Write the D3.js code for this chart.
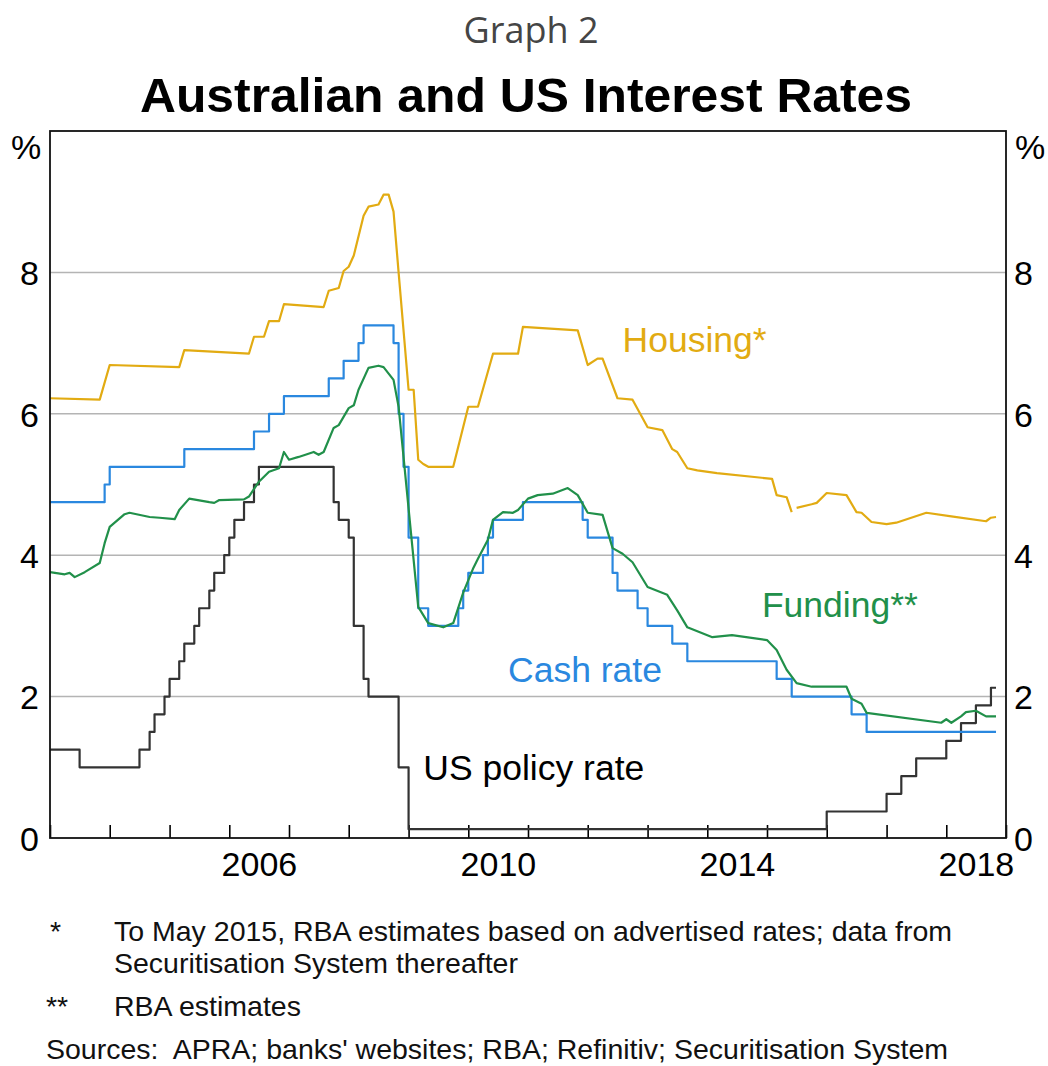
<!DOCTYPE html>
<html>
<head>
<meta charset="utf-8">
<script src="https://cdn.jsdelivr.net/npm/d3@7"></script>
<style>
  body { margin: 0; background: #fff; }
  svg text { font-family: "Liberation Sans", Arial, sans-serif; }
</style>
</head>
<body>
<div id="chart"></div>
<script>
const cashRate = [
  ["2003-01", 4.75], ["2003-12", 5.00], ["2004-01", 5.25], ["2005-04", 5.50], ["2006-06", 5.75],
  ["2006-09", 6.00], ["2006-12", 6.25], ["2007-09", 6.50], ["2007-12", 6.75], ["2008-03", 7.00],
  ["2008-04", 7.25], ["2008-10", 7.00], ["2008-11", 6.00], ["2008-12", 5.25], ["2009-01", 4.25],
  ["2009-03", 3.25], ["2009-05", 3.00], ["2009-11", 3.25], ["2009-12", 3.50], ["2010-01", 3.75],
  ["2010-04", 4.00], ["2010-05", 4.25], ["2010-06", 4.50], ["2010-12", 4.75], ["2011-12", 4.50],
  ["2012-01", 4.25], ["2012-06", 3.75], ["2012-07", 3.50], ["2012-11", 3.25], ["2013-01", 3.00],
  ["2013-06", 2.75], ["2013-09", 2.50], ["2015-03", 2.25], ["2015-06", 2.00], ["2016-06", 1.75],
  ["2016-09", 1.50], ["2018-11", 1.50]
]

const usPolicyRate = [
  ["2003-01", 1.25], ["2003-07", 1.00], ["2004-07", 1.25], ["2004-09", 1.50], ["2004-10", 1.75],
  ["2004-12", 2.00], ["2005-01", 2.25], ["2005-03", 2.50], ["2005-04", 2.75], ["2005-06", 3.00],
  ["2005-07", 3.25], ["2005-09", 3.50], ["2005-10", 3.75], ["2005-12", 4.00], ["2006-01", 4.25],
  ["2006-02", 4.50], ["2006-04", 4.75], ["2006-06", 5.00], ["2006-07", 5.25], ["2007-10", 4.75],
  ["2007-11", 4.50], ["2008-01", 4.25], ["2008-02", 3.00], ["2008-04", 2.25], ["2008-05", 2.00],
  ["2008-11", 1.00], ["2009-01", 0.125], ["2016-01", 0.375], ["2017-01", 0.625], ["2017-04", 0.875],
  ["2017-07", 1.125], ["2018-01", 1.375], ["2018-04", 1.625], ["2018-07", 1.875], ["2018-10", 2.125],
  ["2018-11", 2.125]
]

// housing: advertised-rate estimates to May 2015, Securitisation System after
const housingAdvertised = [
  ["2003-01", 6.22], ["2003-11", 6.20], ["2004-01", 6.69], ["2005-03", 6.66], ["2005-04", 6.90],
  ["2006-05", 6.85], ["2006-06", 7.09], ["2006-08", 7.09], ["2006-09", 7.31], ["2006-11", 7.31],
  ["2006-12", 7.55], ["2007-08", 7.51], ["2007-09", 7.74], ["2007-11", 7.78], ["2007-12", 8.02],
  ["2008-01", 8.08], ["2008-02", 8.24], ["2008-04", 8.80], ["2008-05", 8.93], ["2008-07", 8.96],
  ["2008-08", 9.10], ["2008-09", 9.10], ["2008-10", 8.86], ["2008-11", 8.00], ["2009-01", 6.34],
  ["2009-02", 6.34], ["2009-03", 5.35], ["2009-04", 5.29], ["2009-05", 5.25], ["2009-10", 5.25],
  ["2010-01", 6.10], ["2010-03", 6.10], ["2010-06", 6.85], ["2010-11", 6.85], ["2010-12", 7.23],
  ["2011-11", 7.18], ["2012-01", 6.69], ["2012-03", 6.78], ["2012-04", 6.78], ["2012-07", 6.22],
  ["2012-10", 6.20], ["2013-01", 5.81], ["2013-04", 5.77], ["2013-06", 5.50], ["2013-07", 5.46],
  ["2013-09", 5.23], ["2013-11", 5.20], ["2014-03", 5.16], ["2015-02", 5.08], ["2015-03", 4.85],
  ["2015-05", 4.82], ["2015-06", 4.61]
]
const housingSecuritisation = [
  ["2015-07", 4.67], ["2015-10", 4.72], ["2015-11", 4.74], ["2016-01", 4.88], ["2016-05", 4.85],
  ["2016-07", 4.61], ["2016-08", 4.60], ["2016-10", 4.47], ["2017-01", 4.44], ["2017-03", 4.46],
  ["2017-09", 4.60], ["2018-02", 4.55], ["2018-09", 4.48], ["2018-10", 4.53], ["2018-11", 4.54]
]

const funding = [
  ["2003-01", 3.76], ["2003-04", 3.73], ["2003-05", 3.75], ["2003-06", 3.69], ["2003-08", 3.76],
  ["2003-11", 3.89], ["2003-12", 4.17], ["2004-01", 4.40], ["2004-04", 4.58], ["2004-05", 4.60],
  ["2004-09", 4.54], ["2004-11", 4.53], ["2005-02", 4.51], ["2005-03", 4.64], ["2005-05", 4.80],
  ["2005-09", 4.75], ["2005-10", 4.74], ["2005-11", 4.78], ["2006-04", 4.79], ["2006-05", 4.83],
  ["2006-07", 5.04], ["2006-09", 5.18], ["2006-11", 5.23], ["2006-12", 5.46], ["2007-01", 5.35],
  ["2007-03", 5.39], ["2007-06", 5.46], ["2007-07", 5.42], ["2007-08", 5.46], ["2007-10", 5.80],
  ["2007-11", 5.84], ["2008-01", 6.08], ["2008-02", 6.12], ["2008-03", 6.34], ["2008-05", 6.65],
  ["2008-07", 6.68], ["2008-08", 6.66], ["2008-10", 6.48], ["2008-11", 6.10], ["2009-03", 3.27],
  ["2009-05", 3.04], ["2009-08", 2.98], ["2009-10", 3.04], ["2009-12", 3.47], ["2010-02", 3.82],
  ["2010-03", 3.95], ["2010-05", 4.22], ["2010-06", 4.50], ["2010-08", 4.61], ["2010-10", 4.60],
  ["2010-11", 4.64], ["2011-01", 4.80], ["2011-03", 4.85], ["2011-06", 4.87], ["2011-09", 4.95],
  ["2011-11", 4.85], ["2012-01", 4.60], ["2012-04", 4.57], ["2012-06", 4.10], ["2012-08", 4.02],
  ["2012-10", 3.90], ["2013-01", 3.55], ["2013-05", 3.44], ["2013-07", 3.22], ["2013-09", 2.98],
  ["2014-02", 2.84], ["2014-06", 2.87], ["2015-01", 2.80], ["2015-03", 2.66], ["2015-05", 2.38],
  ["2015-07", 2.19], ["2015-10", 2.14], ["2016-05", 2.14], ["2016-06", 1.97], ["2016-08", 1.90],
  ["2016-09", 1.77], ["2017-12", 1.63], ["2018-01", 1.68], ["2018-02", 1.63], ["2018-04", 1.72],
  ["2018-05", 1.78], ["2018-07", 1.80], ["2018-09", 1.72], ["2018-11", 1.72]
]

const yTicks = [0, 2, 4, 6, 8]
const yearLabels = [2006, 2010, 2014, 2018]
const footnotes = [
  ["*", "To May 2015, RBA estimates based on advertised rates; data from"],
  ["", "Securitisation System thereafter"],
  ["**", "RBA estimates"]
]
const sources = "Sources:  APRA; banks' websites; RBA; Refinitiv; Securitisation System"

const W = 1048, H = 1066
const MARGIN = {TOP: 131, BOTTOM: 228, LEFT: 50, RIGHT: 42}
const WIDTH = W - MARGIN.LEFT - MARGIN.RIGHT
const HEIGHT = H - MARGIN.TOP - MARGIN.BOTTOM

const COLORS = {housing: "#e2ab12", cash: "#2a88df", funding: "#21904a", us: "#333333"}

const parse = d3.timeParse("%Y-%m")
const toPts = arr => arr.map(([d, v]) => ({date: parse(d), value: v}))

const svg = d3.select("#chart").append("svg")
  .attr("width", W)
  .attr("height", H)

svg.append("text")
  .attr("x", 531).attr("y", 43)
  .attr("text-anchor", "middle")
  .style("font-family", "'Open Sans', 'DejaVu Sans', sans-serif")
  .style("font-size", "36px")
  .attr("fill", "#454545")
  .text("Graph 2")

svg.append("text")
  .attr("x", 526).attr("y", 112)
  .attr("text-anchor", "middle")
  .style("font-size", "49px")
  .style("font-weight", "bold")
  .attr("textLength", 772)
  .attr("lengthAdjust", "spacingAndGlyphs")
  .attr("fill", "#000")
  .text("Australian and US Interest Rates")

const g = svg.append("g").attr("transform", `translate(${MARGIN.LEFT}, ${MARGIN.TOP})`)

const x = d3.scaleTime()
  .domain([new Date(2003, 0, 1), new Date(2019, 0, 1)])
  .range([0, WIDTH])

const y = d3.scaleLinear()
  .domain([0, 10])
  .range([HEIGHT, 0])

// gridlines
g.append("g")
  .selectAll("line")
  .data(yTicks.filter(t => t > 0))
  .enter().append("line")
  .attr("x1", 0).attr("x2", WIDTH)
  .attr("y1", d => y(d)).attr("y2", d => y(d))
  .attr("stroke", "#b4b4b4")
  .attr("stroke-width", 1.5)

// y axes, both sides
const yLeft = g.append("g").call(d3.axisLeft(y).tickValues(yTicks).tickSize(0).tickPadding(11))
const yRight = g.append("g").attr("transform", `translate(${WIDTH},0)`)
  .call(d3.axisRight(y).tickValues(yTicks).tickSize(0).tickPadding(8))
;[yLeft, yRight].forEach(a => {
  a.select(".domain").remove()
  a.selectAll("text").style("font-size", "34px").attr("fill", "#000").attr("dy", "0.36em")
})

g.append("text").attr("x", -24).attr("y", 28).attr("text-anchor", "middle")
  .style("font-size", "34px").text("%")
g.append("text").attr("x", WIDTH + 24).attr("y", 28).attr("text-anchor", "middle")
  .style("font-size", "34px").text("%")

// x axis: yearly ticks pointing in, labels at mid-year
const xTicks = g.append("g").attr("transform", `translate(0,${HEIGHT})`)
  .call(d3.axisBottom(x).ticks(d3.timeYear.every(1)).tickSize(-13).tickFormat(""))
xTicks.select(".domain").remove()
xTicks.selectAll("line").attr("stroke", "#000").attr("stroke-width", 1.6)

const xLabels = g.append("g").attr("transform", `translate(0,${HEIGHT})`)
  .call(d3.axisBottom(x)
    .tickValues(yearLabels.map(yr => new Date(yr, 6, 1)))
    .tickSize(0).tickPadding(14)
    .tickFormat(d3.timeFormat("%Y")))
xLabels.select(".domain").remove()
xLabels.selectAll("text").style("font-size", "34px").attr("fill", "#000")

// series
const stepLine = d3.line().x(d => x(d.date)).y(d => y(d.value)).curve(d3.curveStepAfter)
const line = d3.line().x(d => x(d.date)).y(d => y(d.value))

const series = [
  {data: toPts(usPolicyRate), gen: stepLine, color: COLORS.us},
  {data: toPts(cashRate), gen: stepLine, color: COLORS.cash},
  {data: toPts(funding), gen: line, color: COLORS.funding},
  {data: toPts(housingAdvertised), gen: line, color: COLORS.housing},
  {data: toPts(housingSecuritisation), gen: line, color: COLORS.housing}
]

g.selectAll("path.series")
  .data(series)
  .enter().append("path")
  .attr("class", "series")
  .attr("d", s => s.gen(s.data))
  .attr("fill", "none")
  .attr("stroke", s => s.color)
  .attr("stroke-width", 2.2)
  .attr("stroke-linejoin", "round")

// frame
g.append("rect")
  .attr("width", WIDTH).attr("height", HEIGHT)
  .attr("fill", "none")
  .attr("stroke", "#111")
  .attr("stroke-width", 1.8)

// series labels, anchored in data space
const labels = [
  {text: "Housing*", date: "2012-08", value: 6.88, color: COLORS.housing},
  {text: "Funding**", date: "2014-12", value: 3.13, color: COLORS.funding},
  {text: "Cash rate", date: "2010-09", value: 2.2, color: COLORS.cash},
  {text: "US policy rate", date: "2009-04", value: 0.82, color: "#000"}
]
g.selectAll("text.lbl")
  .data(labels)
  .enter().append("text")
  .attr("class", "lbl")
  .attr("x", d => x(parse(d.date)))
  .attr("y", d => y(d.value))
  .style("font-size", "35.5px")
  .attr("fill", d => d.color)
  .text(d => d.text)

// footnotes
const notes = svg.append("g").style("font-size", "28.5px").attr("fill", "#111")
footnotes.forEach(([mark, txt], i) => {
  const by = [941, 973, 1016][i]
  notes.append("text").attr("x", mark === "**" ? 46 : 50).attr("y", by).text(mark)
  notes.append("text").attr("x", 114).attr("y", by).text(txt)
})
notes.append("text").attr("x", 46).attr("y", 1059)
  .style("white-space", "pre")
  .text(sources)
</script>
</body>
</html>
